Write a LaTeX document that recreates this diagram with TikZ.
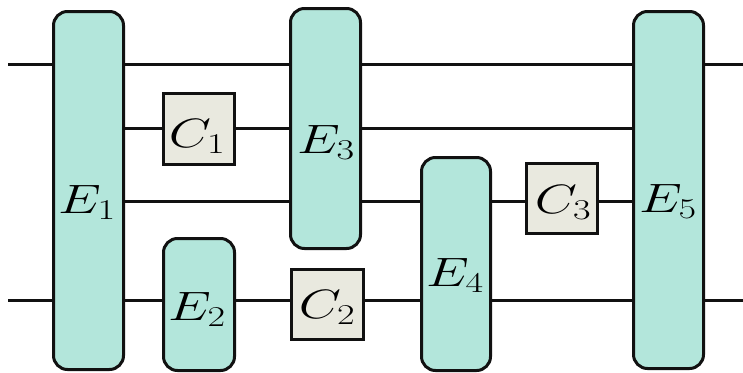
\RequirePackage{fix-cm}
\documentclass[tikz,border=0pt]{standalone}
\usetikzlibrary{backgrounds}
\definecolor{tealbox}{RGB}{179,230,219}
\definecolor{beigebox}{RGB}{233,233,223}
\definecolor{ink}{RGB}{17,17,17}
\newcommand{\wlbl}[1]{\scalebox{1.33}[1]{$#1$}}
\tikzset{
  ebox/.style={draw=ink, fill=tealbox, line width=3pt, rounded corners=14pt, inner sep=0pt},
  cbox/.style={draw=ink, fill=beigebox, line width=3pt, inner sep=0pt},
  wire/.style={draw=ink, line width=3pt},
  lbl/.style={anchor=base, inner sep=0pt, font=\fontsize{41}{48}\selectfont}
}
\begin{document}
\begin{tikzpicture}[x=1pt,y=-1pt]
\useasboundingbox (0,0) rectangle (743,372);
% boxes
\node[ebox, minimum width=70pt, minimum height=358pt] (E1) at (88.5,190.5) {};
\node[ebox, minimum width=71pt, minimum height=132pt] (E2) at (199,304.5) {};
\node[ebox, minimum width=70pt, minimum height=240pt] (E3) at (325.5,128.5) {};
\node[ebox, minimum width=69pt, minimum height=213pt] (E4) at (456,264) {};
\node[ebox, minimum width=70pt, minimum height=357pt] (E5) at (668.5,190) {};
\node[cbox, minimum width=71pt, minimum height=71pt] (C1) at (199,129) {};
\node[cbox, minimum width=72pt, minimum height=70pt] (C2) at (327.5,304.5) {};
\node[cbox, minimum width=71pt, minimum height=70pt] (C3) at (562,198.5) {};
% labels
\node[lbl] (tE1) at (87,213) {\wlbl{E_1}};
\node[lbl] (tE2) at (197,320) {\wlbl{E_2}};
\node[lbl] (tE3) at (326,153) {\wlbl{E_3}};
\node[lbl] (tE4) at (455,286) {\wlbl{E_4}};
\node[lbl] (tE5) at (668,212) {\wlbl{E_5}};
\node[lbl] (tC1) at (197,147) {\wlbl{C_1}};
\node[lbl] (tC2) at (327,318) {\wlbl{C_2}};
\node[lbl] (tC3) at (563,213) {\wlbl{C_3}};
% wires
\coordinate (w1L) at (8,64.5);
\coordinate (w1R) at (743,64.5);
\coordinate (w2) at (0,128.3);
\coordinate (w3) at (0,201);
\coordinate (w4L) at (8,300.5);
\coordinate (w4R) at (743,300.5);
\begin{pgfonlayer}{background}
\fill[white] (0,0) rectangle (743,372);
\draw[wire] (w1L) -- (w1R);
\draw[wire] (E1 |- w2) -- (E5 |- w2);
\draw[wire] (E1 |- w3) -- (E5 |- w3);
\draw[wire] (w4L) -- (w4R);
\end{pgfonlayer}
\end{tikzpicture}
\end{document}
